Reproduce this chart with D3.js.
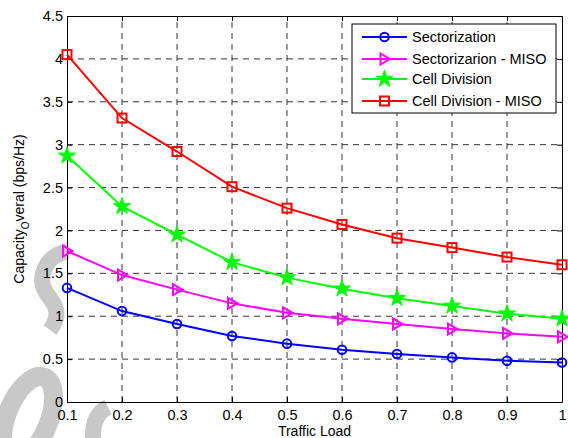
<!DOCTYPE html>
<html><head><meta charset="utf-8">
<script src="https://cdn.jsdelivr.net/npm/d3@7/dist/d3.min.js"></script>
<style>body{margin:0;background:#fff}svg{display:block}text{font-family:"Liberation Sans",Arial,sans-serif}</style>
</head><body><div id="chart"></div>
<script>
const trafficLoad = [0.1,0.2,0.3,0.4,0.5,0.6,0.7,0.8,0.9,1.0];
const sectorization = [1.33,1.06,0.91,0.77,0.68,0.61,0.56,0.52,0.48,0.46];
const sectorizationMISO = [1.76,1.48,1.31,1.15,1.04,0.97,0.91,0.85,0.80,0.76];
const cellDivision = [2.87,2.28,1.95,1.63,1.45,1.32,1.21,1.12,1.03,0.97];
const cellDivisionMISO = [4.05,3.31,2.92,2.51,2.26,2.07,1.91,1.80,1.69,1.60];
const seriesNames = ["Sectorization","Sectorizarion - MISO","Cell Division","Cell Division - MISO"];
const xTicks = [0.1,0.2,0.3,0.4,0.5,0.6,0.7,0.8,0.9,1];
const yTicks = [0,0.5,1,1.5,2,2.5,3,3.5,4,4.5];

const W=568,H=438;
const m={l:67,t:16,r:6,b:36};
const svg=d3.select("#chart").append("svg").attr("width",W).attr("height",H);
const x=d3.scaleLinear().domain([0.1,1]).range([m.l,W-m.r]);
const y=d3.scaleLinear().domain([0,4.5]).range([H-m.b,m.t]);

// watermark (decorative)
const wm=svg.append("g").attr("fill","none").attr("stroke","#c8c8c8");
wm.append("ellipse").attr("cx",28).attr("cy",418).attr("rx",21).attr("ry",44)
  .attr("transform","rotate(22,28,418)").attr("stroke-width",19);
wm.append("path").attr("d","M68,251 C44,256 36,280 47,294 C55,304 62,314 50,330").attr("stroke-width",16).attr("stroke-linecap","butt");
wm.append("path").attr("d","M93,440 C92,422 98,412 108,407").attr("stroke-width",16);

const colors=["#0000ff","#ff00ff","#00ff00","#ff0000"];
const data=[sectorization,sectorizationMISO,cellDivision,cellDivisionMISO];

// grid
const grid=svg.append("g").attr("stroke","#333").attr("stroke-dasharray","6,5").attr("stroke-width",1);
xTicks.slice(1,-1).forEach(t=>grid.append("line").attr("x1",x(t)).attr("x2",x(t)).attr("y1",y(0)).attr("y2",y(4.5)));
yTicks.slice(1,-1).forEach(t=>grid.append("line").attr("x1",x(0.1)).attr("x2",x(1)).attr("y1",y(t)).attr("y2",y(t)));

// axes (MATLAB box style with inward ticks)
const fmt=d=>String(d);
const gx=svg.append("g").attr("transform",`translate(0,${y(0)})`).call(d3.axisBottom(x).tickValues(xTicks).tickFormat(fmt).tickSizeInner(-5).tickSizeOuter(0).tickPadding(8));
const gy=svg.append("g").attr("transform",`translate(${x(0.1)},0)`).call(d3.axisLeft(y).tickValues(yTicks).tickFormat(fmt).tickSizeInner(-5).tickSizeOuter(0).tickPadding(4));
const gxt=svg.append("g").attr("transform",`translate(0,${y(4.5)})`).call(d3.axisTop(x).tickValues(xTicks).tickFormat("").tickSizeInner(-5).tickSizeOuter(0));
const gyr=svg.append("g").attr("transform",`translate(${x(1)},0)`).call(d3.axisRight(y).tickValues(yTicks).tickFormat("").tickSizeInner(-5).tickSizeOuter(0));
[gx,gy,gxt,gyr].forEach(g=>{g.selectAll("path,line").attr("stroke","#000");g.selectAll("text").attr("font-size",14.5).attr("fill","#000").attr("font-family","Liberation Sans, Arial, sans-serif");});

// markers
function marker(g,i,cx,cy){
  const c=colors[i];
  if(i===0) g.append("circle").attr("cx",cx).attr("cy",cy).attr("r",4.3).attr("fill","none").attr("stroke",c).attr("stroke-width",2);
  else if(i===1) g.append("path").attr("d",`M${cx-4},${cy-5.5}L${cx+5.5},${cy}L${cx-4},${cy+5.5}Z`).attr("fill","none").attr("stroke",c).attr("stroke-width",2);
  else if(i===2) g.append("path").attr("transform",`translate(${cx},${cy})`).attr("d",d3.symbol(d3.symbolStar,90)()).attr("fill",c).attr("stroke",c).attr("stroke-width",1);
  else g.append("rect").attr("x",cx-4.5).attr("y",cy-4.5).attr("width",9).attr("height",9).attr("fill","none").attr("stroke",c).attr("stroke-width",2);
}
const line=d3.line().x((d,j)=>x(trafficLoad[j])).y(d=>y(d));
data.forEach((s,i)=>{
  const g=svg.append("g");
  g.append("path").datum(s).attr("d",line).attr("fill","none").attr("stroke",colors[i]).attr("stroke-width",2);
  s.forEach((v,j)=>marker(g,i,x(trafficLoad[j]),y(v)));
});

// labels
svg.append("text").attr("x",(x(0.1)+x(1))/2).attr("y",436).attr("text-anchor","middle").attr("font-size",14).text("Traffic Load");
const yl=svg.append("text").attr("transform",`translate(24,${(y(0)+y(4.5))/2}) rotate(-90)`).attr("text-anchor","middle").attr("font-size",14);
yl.append("tspan").text("Capacity");
yl.append("tspan").attr("dy",5).attr("font-size",10).text("O");
yl.append("tspan").attr("dy",-5).text("veral (bps/Hz)");

// legend
const lg=svg.append("g");
lg.append("rect").attr("x",352).attr("y",24).attr("width",204).attr("height",89).attr("fill","#fff").attr("stroke","#000").attr("stroke-width",1);
const rowsY=[37,59,79,101];
seriesNames.forEach((n,i)=>{
  lg.append("line").attr("x1",362).attr("x2",407).attr("y1",rowsY[i]).attr("y2",rowsY[i]).attr("stroke",colors[i]).attr("stroke-width",2);
  marker(lg,i,384.5,rowsY[i]);
  lg.append("text").attr("x",412).attr("y",rowsY[i]+5).attr("font-size",14.5).text(n);
});
</script></body></html>
